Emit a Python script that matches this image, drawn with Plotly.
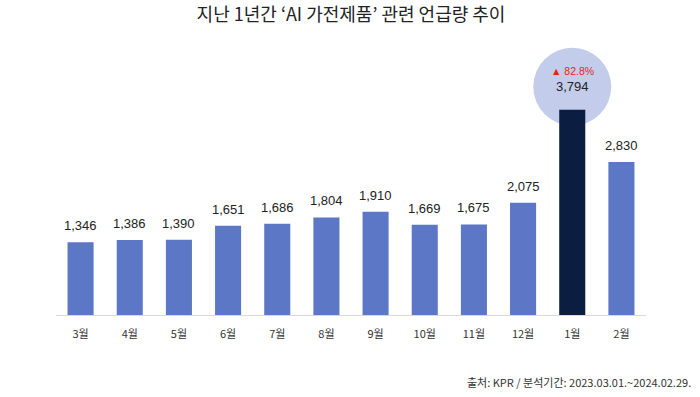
import plotly.graph_objects as go

months = ["3월", "4월", "5월", "6월", "7월", "8월", "9월", "10월", "11월", "12월", "1월", "2월"]
mentions = [1346, 1386, 1390, 1651, 1686, 1804, 1910, 1669, 1675, 2075, 3794, 2830]
highlight_index = 10
growth_label = "▲ 82.8%"

title_text = "지난 1년간 ‘AI 가전제품’ 관련 언급량 추이"
source_text = "출처: KPR / 분석기간: 2023.03.01.~2024.02.29."

BLUE = "#5b77c5"
NAVY = "#0b1d40"
CIRCLE = "#c3cdeb"
RED = "#e0242a"
FONT = "Liberation Sans, Noto Sans CJK KR, sans-serif"
KFONT = "Noto Sans CJK KR, sans-serif"

colors = [NAVY if i == highlight_index else BLUE for i in range(len(months))]

fig = go.Figure()
fig.add_trace(go.Bar(
    x=months, y=mentions, marker=dict(color=colors, line=dict(width=0)),
    width=0.53, hoverinfo="skip",
))

W, H = 700, 397
ml, mr, mt, mb = 56, 54, 40, 82
plot_h = H - mt - mb
px_per_unit = 0.0541
y_max = plot_h / px_per_unit

annotations = []
for i, (m, v) in enumerate(zip(months, mentions)):
    if i == highlight_index:
        continue
    annotations.append(dict(
        x=m, y=v, xref="x", yref="y", text=f"{v:,}", showarrow=False,
        yanchor="bottom", yshift=7, font=dict(family=FONT, size=13, color="#222222"),
    ))

hm = months[highlight_index]
hv = mentions[highlight_index]
annotations.append(dict(
    x=hm, y=hv, xref="x", yref="y", text=f"{hv:,}", showarrow=False,
    yanchor="bottom", yshift=14, font=dict(family=FONT, size=13, color="#222222"),
))
annotations.append(dict(
    x=hm, y=hv, xref="x", yref="y", text=growth_label, showarrow=False,
    yanchor="bottom", yshift=31, font=dict(family=FONT, size=10.5, color=RED),
))
annotations.append(dict(
    x=1, y=0, xref="paper", yref="paper", text=source_text, showarrow=False,
    xanchor="right", yanchor="middle", xshift=47, yshift=-67,
    font=dict(family=KFONT, size=11, color="#333333"),
))

# highlight circle around the peak label (pixel-based radius)
r_px = 39
cy_units = hv + 23 / px_per_unit
fig.add_shape(
    type="circle", xref="x", yref="y", layer="below",
    x0=highlight_index - r_px / 49.2, x1=highlight_index + r_px / 49.2,
    y0=cy_units - r_px / px_per_unit, y1=cy_units + r_px / px_per_unit,
    fillcolor=CIRCLE, line=dict(width=0),
)

fig.update_layout(
    width=W, height=H,
    margin=dict(l=ml, r=mr, t=mt, b=mb, autoexpand=False),
    paper_bgcolor="white", plot_bgcolor="white",
    showlegend=False,
    title=dict(text=title_text, x=0.5, xref="paper", xanchor="center",
               y=1 - 15 / H, yref="container", yanchor="middle",
               font=dict(family=KFONT, size=18, color="#222222")),
    xaxis=dict(type="category", range=[-0.5, 11.5], showline=True, linecolor="#d9d9d9",
               linewidth=1, ticks="", showgrid=False, zeroline=False, automargin=False,
               ticklabelstandoff=9,
               tickfont=dict(family=KFONT, size=11, color="#333333")),
    yaxis=dict(range=[0, y_max], visible=False, showgrid=False, zeroline=False,
               automargin=False),
    annotations=annotations,
)

fig.write_html("out.html", config={"displayModeBar": False},
               post_script="document.body.style.margin='0px';")
